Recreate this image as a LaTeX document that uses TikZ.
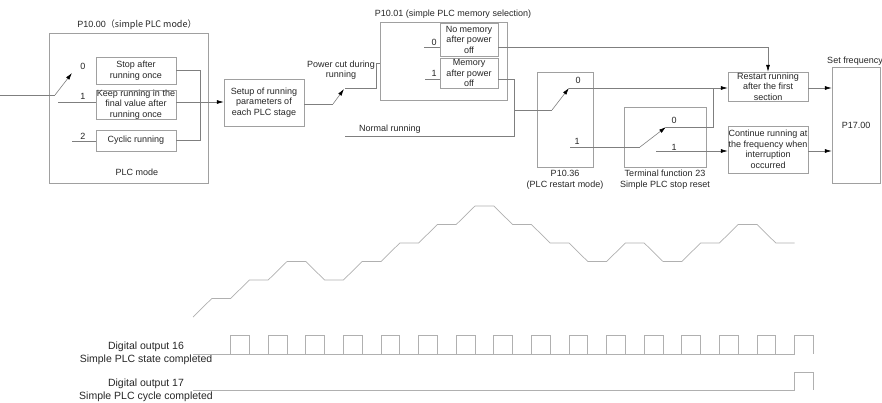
\documentclass[tikz,border=0pt]{standalone}
\usepackage{fontspec}
\setmainfont{Liberation Sans}
\newfontfamily\cjk{Noto Sans CJK SC}
\usepackage{tikz}
\usetikzlibrary{arrows.meta,positioning,calc}
\definecolor{linegray}{HTML}{7F7F7F}
\definecolor{boxgray}{HTML}{A0A0A0}
\definecolor{wavegray}{HTML}{B0B0B0}

\begin{document}
\begin{tikzpicture}[
    x=1pt, y=-1pt,
    txt/.style={font=\fontsize{9}{10.5}\selectfont, text=black!85, align=center, inner sep=0pt},
    blk/.style 2 args={txt, draw=boxgray, fill=white, minimum width=#1, minimum height=#2},
    wire/.style={draw=linegray, line width=0.6pt},
    arr/.style={wire, -{Latex[length=7pt,width=4pt,color=black]}},
    wave/.style={draw=wavegray, line width=0.7pt},
    siglbl/.style={font=\fontsize{10.5}{12.7}\selectfont, text=black!85, align=center, inner sep=0pt}
]
\useasboundingbox (0,0) rectangle (882,402);

% P10.00 simple PLC mode
\node[blk={159}{150}] (p1000) at (128.5,108) {};
\node[txt] (p1000t) at (137,25) {P10.00\cjk{（}simple PLC mode\cjk{）}};
\node[txt] (plcmode) at (137,172) {PLC mode};
\node[blk={80}{27}] (stop) at (136,70.5) {Stop after\\running once};
\node[blk={80}{29}] (keep) at (136,104.5) {Keep running in the\\final value after\\running once};
\node[blk={80}{21}] (cyclic) at (136,140.5) {Cyclic running};
\node[txt] (a0l) at (83,66) {0};
\node[txt] (a1l) at (83,96) {1};
\node[txt] (a2l) at (83,136) {2};

\coordinate (in) at (0,95);
\coordinate (swA) at (55,95);
\coordinate (swA0) at (72,73);
\coordinate (a1) at (58,102);
\coordinate (a2) at (72,141);
\coordinate (col) at (200,0);

\draw[wire] (in) -- (swA);
\draw[arr] (swA) -- (swA0);
\draw[wire] (a1) -- (a1 -| keep.west);
\draw[wire] (a2) -- (a2 -| cyclic.west);
\draw[wire] (stop.east) -- (stop.east -| col) |- (cyclic.east);

% setup of each stage
\node[blk={80}{47}] (setup) at (264,102.5) {Setup of running\\parameters of\\each PLC stage};
\draw[arr] (keep.east |- a1) -- (setup.west |- a1);

\coordinate (swB) at (333,104);
\coordinate (swB0) at (344,89);
\draw[wire] (setup.east |- swB) -- (swB);
\draw[arr] (swB) -- (swB0);

% power cut / normal running
\node[txt] (pctxt) at (341,70) {Power cut during\\running};
\coordinate (pc) at (345,88);
\coordinate (pcup) at (376,63);
\coordinate (swC) at (408,63);
\coordinate (swC0) at (424,47);
\draw[wire] (pc) -| (pcup) -- (swC);
\draw[arr] (swC) -- (swC0);

\node[txt] (nrtxt) at (390,129.5) {Normal running};
\coordinate (nr) at (345,136);
\coordinate (jn) at (514,0);

% P10.01 memory selection
\node[blk={127}{78}] (p1001) at (443.5,61) {};
\node[txt] (p1001t) at (453,14) {P10.01 (simple PLC memory selection)};
\node[blk={58}{33}] (nomem) at (469,39.5) {No memory\\after power\\off};
\node[blk={58}{30}] (mem) at (469,73) {Memory\\after power\\off};
\node[txt] (c0l) at (434,42) {0};
\node[txt] (c1l) at (434,73) {1};
\coordinate (c1) at (425,79);
\draw[wire] (swC0) -- (swC0 -| nomem.west);
\draw[wire] (c1) -- (c1 -| mem.west);

% P10.36 restart mode
\node[blk={56}{95}] (p1036) at (565,119.5) {};
\node[txt, below=3pt of p1036] (p1036t) {P10.36\\(PLC restart mode)};
\node[txt] (d0l) at (578,80) {0};
\node[txt] (d1l) at (577,141) {1};
\coordinate (swD) at (552,110);
\coordinate (swD0) at (569,88);
\coordinate (d1) at (570,147);

% terminal function 23
\node[blk={82}{60}] (term) at (665,137) {};
\node[txt, below=3pt of term] (termt) {Terminal function 23\\Simple PLC stop reset};
\node[txt] (e0l) at (674,120) {0};
\node[txt] (e1l) at (674,147) {1};
\coordinate (swE) at (640,147);
\coordinate (swE0) at (666,127);
\coordinate (e1) at (656,151);
\coordinate (tj) at (713,0);

% results
\node[blk={80}{29}] (restart) at (768,86.5) {Restart running\\after the first\\section};
\node[blk={80}{47}] (cont) at (768,149.5) {Continue running at\\the frequency when\\interruption\\occurred};
\node[blk={48}{116}] (p17) at (856,125) {P17.00};
\node[txt] (setf) at (855,61) {Set frequency};

\draw[arr] (nomem.east |- swC0) -| (restart.north);
\draw[wire] (mem.east |- c1) -| (jn |- nr) -- (nr);
\draw[wire] (jn |- swD) -- (swD);
\draw[arr] (swD) -- (swD0);
\draw[arr] (swD0) -- (restart.west |- swD0);
\draw[wire] (d1) -- (swE);
\draw[arr] (swE) -- (swE0);
\draw[wire] (swE0) -- (tj |- swE0) -- (tj |- swD0);
\draw[arr] (e1) -- (cont.west |- e1);
\draw[arr] (restart.east |- swD0) -- (p17.west |- swD0);
\draw[arr] (cont.east |- e1) -- (p17.west |- e1);

% frequency curve
\draw[wave] (193,317) \foreach \lv [count=\k] in {1,1,2,2,3,3,2,2,3,3,4,4,5,5,6,6,5,5,4,4,3,3,4,4,3,3,4,4,5,5,4,4} { -- ({193+18.8*\k},{317-18.5*\lv}) };

% digital outputs
\node[siglbl] (do16) at (146,353.5) {Digital output 16\\Simple PLC state completed};
\node[siglbl] (do17) at (146,390.5) {Digital output 17\\Simple PLC cycle completed};
\draw[wave] (193,354) -- ({193+18.8*32},354);
\foreach \j in {1,...,16}
    \draw[wave] ({193+18.8*2*\j},354) |- ({193+18.8*(2*\j+1)},335) -- ++(0,19);
\draw[wave] (193,390) -- ({193+18.8*32},390) |- ({193+18.8*33},372) -- ++(0,18);

\end{tikzpicture}
\end{document}
